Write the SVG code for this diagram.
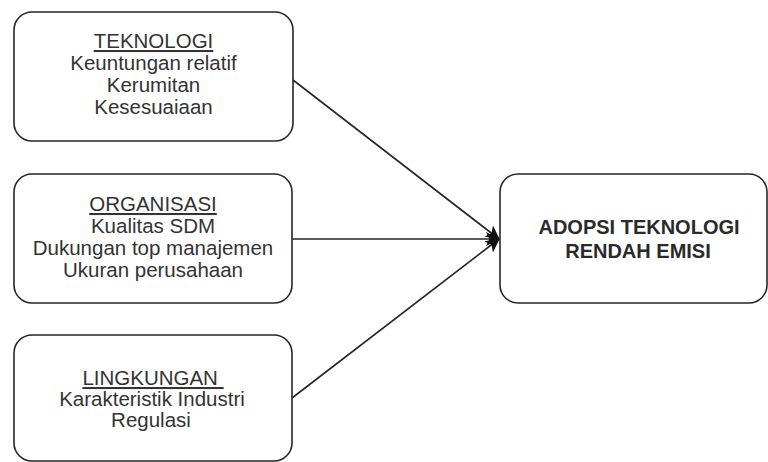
<svg xmlns="http://www.w3.org/2000/svg" width="768" height="462" viewBox="0 0 768 462">
  <style>
    .box { fill: #ffffff; stroke: #262626; stroke-width: 1.6; }
    .lbl { font-family: "Liberation Sans", Arial, sans-serif; font-size: 20.5px; fill: #333333; text-anchor: middle; }
    .head { text-decoration: underline; white-space: pre; }
    .bold { font-weight: bold; font-size: 20px; fill: #2a2a2a; }
    .edge { stroke: #262626; stroke-width: 1.6; fill: none; marker-end: url(#arrow); }
  </style>
  <defs>
    <marker id="arrow" viewBox="0 0 14 14" refX="13" refY="7" markerWidth="14" markerHeight="14" markerUnits="userSpaceOnUse" orient="auto">
      <path d="M0,0 L14,7 L0,14 L3.5,7 Z" fill="#111111"/>
    </marker>
  </defs>
  <rect width="768" height="462" fill="#ffffff"/>

  <!-- connectors -->
  <g id="connectors">
    <line class="edge" x1="293" y1="80" x2="499" y2="239"/>
    <line class="edge" x1="292" y1="239" x2="499" y2="239"/>
    <line class="edge" x1="292" y1="398" x2="499" y2="239"/>
  </g>

  <!-- factor: technology -->
  <g id="teknologi">
    <rect class="box" x="14" y="12" width="279" height="129" rx="18"/>
    <text class="lbl" x="153.5" y="48"><tspan class="head">TEKNOLOGI</tspan></text>
    <text class="lbl" x="153.5" y="70">Keuntungan relatif</text>
    <text class="lbl" x="153.5" y="92">Kerumitan</text>
    <text class="lbl" x="153.5" y="114">Kesesuaiaan</text>
  </g>

  <!-- factor: organisation -->
  <g id="organisasi">
    <rect class="box" x="14" y="174" width="278" height="129" rx="18"/>
    <text class="lbl" x="153" y="211"><tspan class="head">ORGANISASI</tspan></text>
    <text class="lbl" x="153" y="233">Kualitas SDM</text>
    <text class="lbl" x="153" y="255">Dukungan top manajemen</text>
    <text class="lbl" x="153" y="277">Ukuran perusahaan</text>
  </g>

  <!-- factor: environment -->
  <g id="lingkungan">
    <rect class="box" x="14" y="335" width="278" height="126" rx="18"/>
    <text class="lbl" x="153" y="385"><tspan class="head">LINGKUNGAN </tspan></text>
    <text class="lbl" x="152" y="406">Karakteristik Industri</text>
    <text class="lbl" x="151" y="427">Regulasi</text>
  </g>

  <!-- outcome -->
  <g id="adopsi">
    <rect class="box" x="500" y="174" width="267" height="129" rx="18"/>
    <text class="lbl bold" x="639" y="234">ADOPSI TEKNOLOGI</text>
    <text class="lbl bold" x="638" y="258">RENDAH EMISI</text>
  </g>
</svg>
